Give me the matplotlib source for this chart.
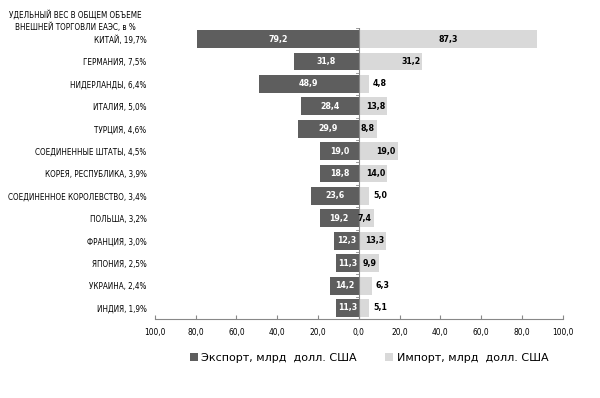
import matplotlib.pyplot as plt
import numpy as np

countries = ['КИТАЙ, 19,7%', 'ГЕРМАНИЯ, 7,5%', 'НИДЕРЛАНДЫ, 6,4%', 'ИТАЛИЯ, 5,0%',
             'ТУРЦИЯ, 4,6%', 'СОЕДИНЕННЫЕ ШТАТЫ, 4,5%', 'КОРЕЯ, РЕСПУБЛИКА, 3,9%',
             'СОЕДИНЕННОЕ КОРОЛЕВСТВО, 3,4%', 'ПОЛЬША, 3,2%', 'ФРАНЦИЯ, 3,0%',
             'ЯПОНИЯ, 2,5%', 'УКРАИНА, 2,4%', 'ИНДИЯ, 1,9%']
export = [79.2, 31.8, 48.9, 28.4, 29.9, 19.0, 18.8, 23.6, 19.2, 12.3, 11.3, 14.2, 11.3]
imports = [87.3, 31.2, 4.8, 13.8, 8.8, 19.0, 14.0, 5.0, 7.4, 13.3, 9.9, 6.3, 5.1]
xticks = [-100, -80, -60, -40, -20, 0, 20, 40, 60, 80, 100]

dark = '#5e5e5e'
light = '#d9d9d9'
font = ['DejaVu Sans']
st = 'condensed'

fig = plt.figure(figsize=(6, 3.98), dpi=100)
ax = fig.add_axes([0.258, 0.198, 0.68, 0.732])

y = np.arange(len(countries))
ax.barh(y, [-v for v in export], height=0.8, color=dark, label='Экспорт, млрд  долл. США')
ax.barh(y, imports, height=0.8, color=light, label='Импорт, млрд  долл. США')

for i, v in enumerate(export):
    ax.text(-v / 2, i, ('%.1f' % v).replace('.', ','), color='white', fontweight='bold',
            fontsize=6.3, ha='center', va='center', family=font, fontstretch=st)
for i, v in enumerate(imports):
    s = ('%.1f' % v).replace('.', ',')
    if v >= 60:
        ax.text(v / 2, i, s, ha='center', va='center', fontsize=6.3, fontweight='bold',
                family=font, fontstretch=st)
    elif v >= 7:
        ax.text(v - 1, i, s, ha='right', va='center', fontsize=6.3, fontweight='bold',
                family=font, fontstretch=st)
    else:
        ax.text(v + 2, i, s, ha='left', va='center', fontsize=6.3, fontweight='bold',
                family=font, fontstretch=st)

ax.set_xlim(-100, 100)
ax.set_ylim(len(countries) - 0.5, -0.5)
ax.set_xticks(xticks)
ax.set_xticklabels([('%.1f' % abs(t)).replace('.', ',') for t in xticks],
                   fontsize=6, family=font, fontstretch=st)
ax.set_yticks(y)
ax.set_yticklabels(countries, fontsize=5.8, family=font, fontstretch=st)
ax.tick_params(axis='y', length=0, pad=6)
ax.tick_params(axis='x', direction='in', length=3, color='#888888', pad=6)

for s in ['top', 'right', 'left']:
    ax.spines[s].set_visible(False)
ax.spines['bottom'].set_color('#888888')
ax.spines['bottom'].set_linewidth(0.8)
ax.axvline(0, color='#888888', lw=0.8)
for b in np.arange(len(countries) + 1) - 0.5:
    ax.plot([-1.5, 0], [b, b], color='#888888', lw=0.6)

fig.text(0.125, 0.975, 'УДЕЛЬНЫЙ ВЕС В ОБЩЕМ ОБЪЕМЕ\nВНЕШНЕЙ ТОРГОВЛИ ЕАЭС, в %',
         ha='center', va='top', fontsize=5.8, family=font, fontstretch=st, linespacing=1.4)

fig.legend(loc='center', bbox_to_anchor=(0.615, 0.1), ncol=2, frameon=False,
           fontsize=8, handlelength=0.7, handleheight=0.7, columnspacing=2.6,
           handletextpad=0.3)

plt.savefig('out.png', dpi=100)
